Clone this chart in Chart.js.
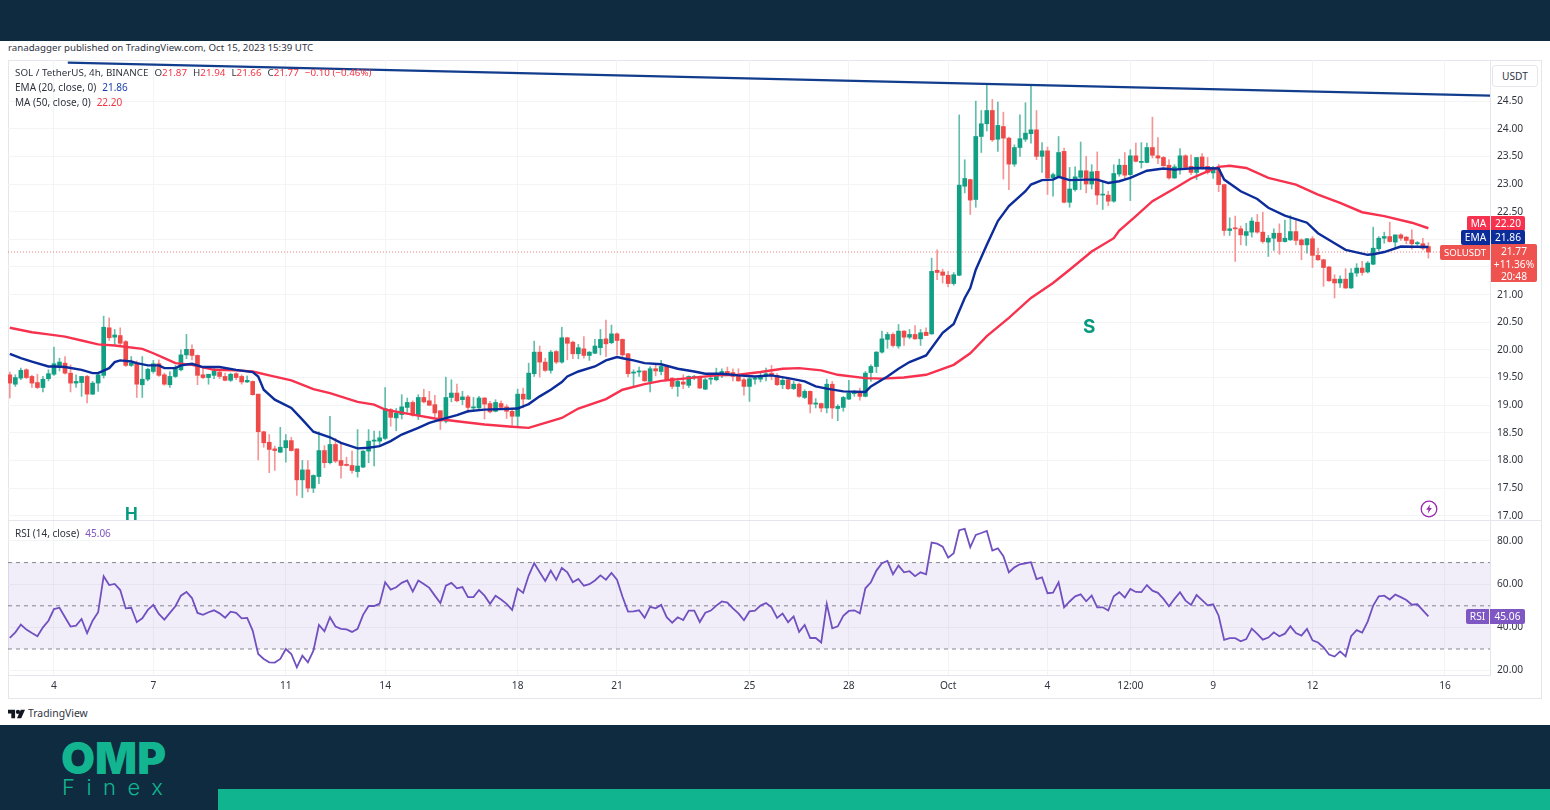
<!DOCTYPE html>
<html>
<head>
<meta charset="utf-8">
<title>SOL / TetherUS</title>
<script src="https://cdn.jsdelivr.net/npm/chart.js@4/dist/chart.umd.min.js"></script>
<style>
    html, body { margin: 0; padding: 0; background: #fff; }
    body { width: 1550px; height: 810px; position: relative; overflow: hidden; font-family: "Noto Sans", sans-serif; color: #30343f; }
    .abs { position: absolute; white-space: nowrap; }
    canvas { position: absolute; display: block; }
    #topBar { left: 0; top: 0; width: 1550px; height: 41px; background: #0e2b40; }
    #footer { left: 0; top: 725px; width: 1550px; height: 85px; background: #0e2b40; }
    #strip { left: 218px; top: 789px; width: 1332px; height: 21px; background: #10b48f; }
    #frame { left: 8px; top: 60px; width: 1532px; height: 637px; border: 1px solid #e4e6ec; }
    #divider { left: 8px; top: 520px; width: 1533px; height: 1px; background: #e4e6ec; }
    .legend { font-size: 10px; line-height: 14px; }
    .red { color: #f23645; }
    .gap { margin-left: 6px; }
    .tag { font-size: 10.2px; line-height: 15px; text-align: center; color: #fff; }
</style>
</head>
<body>
<div class="abs" id="topBar"></div>
<div class="abs" id="frame"></div>
<canvas id="priceChart" width="1533" height="460" style="left:8px;top:60px"></canvas>
<canvas id="rsiChart" width="1533" height="178" style="left:8px;top:520px"></canvas>
<div class="abs" id="divider"></div>

<div class="abs legend" style="left:8px;top:41px;font-size:9.7px">ranadagger published on TradingView.com, Oct 15, 2023 15:39 UTC</div>
<div class="abs legend" style="left:15px;top:66px;font-size:9.8px">SOL / TetherUS, 4h, BINANCE<span class="gap">O</span><span class="red">21.87</span><span class="gap">H</span><span class="red">21.94</span><span class="gap">L</span><span class="red">21.66</span><span class="gap">C</span><span class="red">21.77</span><span class="red gap">−0.10 (−0.46%)</span></div>
<div class="abs legend" style="left:15px;top:80px">EMA (20, close, 0)<span class="gap" style="color:#1b3fa8">21.86</span></div>
<div class="abs legend" style="left:15px;top:95px">MA (50, close, 0)<span class="gap" style="color:#f23645">22.20</span></div>
<div class="abs legend" style="left:15px;top:526px">RSI (14, close)<span class="gap" style="color:#7e57c2">45.06</span></div>

<div class="abs" style="left:125px;top:504px;font:700 17px Inter,sans-serif;color:#089981">H</div>
<div class="abs" style="left:1083px;top:315px;font:700 19px Inter,sans-serif;color:#089981">S</div>

<svg class="abs" style="left:1420px;top:500px" width="18" height="18" viewBox="0 0 18 18">
    <circle cx="9" cy="9" r="7.8" fill="none" stroke="#9c27b0" stroke-width="1.3"/>
    <path d="M10.2 4.2 6.2 9.8h2.4l-.9 4 4.1-5.7H9.4z" fill="#9c27b0"/>
</svg>

<div class="abs" style="left:1492px;top:65px;width:44px;height:20px;border:1px solid #e4e6ec;border-radius:3px;font-size:10.2px;line-height:20px;text-align:center;background:#fff">USDT</div>

<div class="abs tag" style="left:1467px;top:216px;width:23px;height:15px;background:#f7324e;border-radius:2px 0 0 2px">MA</div>
<div class="abs tag" style="left:1491px;top:216px;width:34px;height:15px;background:#f7324e;border-radius:0 2px 2px 0">22.20</div>
<div class="abs tag" style="left:1461px;top:230px;width:29px;height:15px;background:#0c2c9a;border-radius:2px 0 0 2px">EMA</div>
<div class="abs tag" style="left:1491px;top:230px;width:34px;height:15px;background:#0c2c9a;border-radius:0 2px 2px 0">21.86</div>
<div class="abs tag" style="left:1440px;top:245px;width:50px;height:15px;background:#ef5350;border-radius:2px 0 0 2px;font-size:9.6px">SOLUSDT</div>
<div class="abs tag" style="left:1491px;top:244px;width:46px;height:38px;background:#ef5350;line-height:12.7px;border-radius:0 2px 2px 0;padding-top:1px;box-sizing:border-box">21.77<br>+11.36%<br>20:48</div>
<div class="abs tag" style="left:1466px;top:609px;width:23px;height:15px;background:#7e57c2;border-radius:2px 0 0 2px">RSI</div>
<div class="abs tag" style="left:1490px;top:609px;width:35px;height:15px;background:#7e57c2;border-radius:0 2px 2px 0">45.06</div>

<svg class="abs" style="left:8px;top:709px" width="17" height="10" viewBox="0 0 36 18">
    <path d="M0 0h15v18H7V8H0zM21 0a4.5 4.5 0 1 1 0 9 4.5 4.5 0 0 1 0-9zM27 0h9l-8 18h-9z" fill="#131722"/>
</svg>
<div class="abs" style="left:28px;top:706px;font-size:10.4px;line-height:15px;color:#30343f">TradingView</div>

<div class="abs" id="footer"></div>
<div class="abs" id="strip"></div>
<div class="abs" style="left:61px;top:728px;font:900 44px/60px Inter,sans-serif;color:#12b58f">OMP</div>
<div class="abs" style="left:62px;top:774px;font:300 22px/26px Inter,sans-serif;color:#12b58f;letter-spacing:11.5px">Finex</div>

<script>
// 4h candles, Sep 2 16:00 to Oct 15 12:00
const opens = [
    19.55,19.38,19.49,19.64,19.52,19.41,19.32,19.48,19.56,19.70,
    19.76,19.58,19.40,19.41,19.52,19.20,19.40,19.54,20.40,20.23,
    20.26,20.15,19.72,19.76,19.37,19.47,19.61,19.75,19.55,19.37,
    19.52,19.64,19.91,20.01,19.90,19.55,19.50,19.54,19.60,19.52,
    19.45,19.57,19.52,19.42,19.43,19.20,18.52,18.33,18.21,18.15,
    18.23,18.36,18.21,17.65,17.83,17.50,17.71,18.18,17.96,18.29,
    18.00,17.93,17.91,17.80,17.88,18.17,18.35,18.35,18.40,18.92,
    18.77,18.83,18.96,19.05,18.82,19.14,19.08,19.01,18.90,18.71,
    19.14,19.22,19.10,19.15,18.95,18.95,19.13,19.03,18.89,19.03,
    18.97,18.89,18.80,19.20,19.11,19.57,19.96,19.78,19.63,19.97,
    19.78,20.22,20.14,19.93,20.02,19.90,19.94,20.04,20.20,20.13,
    20.29,20.19,19.93,19.58,19.60,19.62,19.43,19.66,19.61,19.70,
    19.49,19.34,19.42,19.36,19.50,19.52,19.29,19.47,19.46,19.55,
    19.61,19.59,19.55,19.46,19.34,19.47,19.47,19.53,19.58,19.54,
    19.37,19.46,19.30,19.38,19.14,19.25,19.02,19.03,18.95,19.38,
    18.94,18.96,19.11,19.21,19.22,19.16,19.59,19.70,19.96,20.19,
    20.28,20.07,20.34,20.23,20.28,20.20,20.32,20.29,21.44,21.41,
    21.35,21.20,21.35,22.96,23.08,22.72,23.86,24.09,24.33,23.81,
    24.04,23.83,23.36,23.66,23.81,23.91,23.98,23.50,23.60,23.11,
    23.14,23.59,22.67,22.90,23.12,23.24,23.00,23.23,22.80,22.80,
    22.69,23.18,23.34,23.17,23.51,23.39,23.39,23.66,23.51,23.48,
    23.34,23.11,23.26,23.51,23.32,23.21,23.49,23.32,23.20,23.26,
    22.99,22.16,22.20,22.19,22.07,22.13,22.31,22.13,21.95,22.02,
    22.11,21.96,21.99,22.14,21.99,21.90,22.01,21.71,21.63,21.50,
    21.28,21.21,21.28,21.12,21.39,21.48,21.41,21.55,21.83,22.02,
    22.05,21.95,22.08,22.04,21.99,21.92,21.92,21.87
];
const closes = [
    19.40,19.50,19.63,19.50,19.40,19.32,19.47,19.57,19.75,19.78,
    19.58,19.40,19.43,19.52,19.20,19.40,19.55,20.41,20.22,20.27,
    20.12,19.72,19.76,19.38,19.47,19.65,19.75,19.54,19.38,19.52,
    19.66,19.91,20.01,19.90,19.54,19.50,19.56,19.62,19.52,19.45,
    19.56,19.50,19.42,19.45,19.19,18.52,18.32,18.20,18.18,18.24,
    18.36,18.18,17.65,17.83,17.50,17.73,18.18,17.96,18.29,17.99,
    17.91,17.91,17.82,17.90,18.17,18.35,18.37,18.41,18.94,18.78,
    18.86,18.97,19.05,18.82,19.14,19.06,19.00,18.86,18.71,19.14,
    19.22,19.08,19.15,18.96,18.97,19.13,19.02,18.88,19.05,18.96,
    18.89,18.80,19.20,19.11,19.58,19.96,19.78,19.63,19.96,19.78,
    20.22,20.12,19.93,20.04,19.90,19.96,20.07,20.19,20.11,20.29,
    20.17,19.91,19.57,19.60,19.62,19.44,19.66,19.62,19.70,19.46,
    19.34,19.43,19.38,19.52,19.52,19.31,19.46,19.49,19.58,19.61,
    19.56,19.52,19.44,19.34,19.48,19.49,19.54,19.57,19.53,19.37,
    19.45,19.30,19.38,19.16,19.25,19.02,19.04,18.95,19.38,18.95,
    18.98,19.14,19.22,19.23,19.16,19.58,19.70,19.96,20.20,20.28,
    20.08,20.34,20.23,20.28,20.20,20.31,20.26,21.42,21.40,21.35,
    21.20,21.36,22.98,23.10,22.71,23.86,24.09,24.33,23.80,24.06,
    23.83,23.36,23.66,23.82,23.92,23.98,23.50,23.60,23.11,23.17,
    23.57,22.67,22.91,23.13,23.24,23.00,23.22,22.80,22.81,22.69,
    23.19,23.34,23.16,23.51,23.41,23.41,23.66,23.52,23.47,23.33,
    23.11,23.31,23.51,23.30,23.21,23.48,23.30,23.21,23.26,22.99,
    22.16,22.19,22.19,22.08,22.14,22.33,22.13,21.96,22.02,22.11,
    21.96,22.02,22.14,21.98,21.90,22.01,21.71,21.63,21.49,21.25,
    21.21,21.28,21.12,21.39,21.48,21.40,21.57,21.84,22.02,22.05,
    21.96,22.08,22.02,21.98,21.92,21.94,21.84,21.77
];
const highs = [
    19.60,19.55,19.67,19.66,19.54,19.56,19.52,19.64,20.05,19.85,
    19.88,19.73,19.55,19.52,19.54,19.43,19.60,20.61,20.58,20.37,
    20.40,20.17,19.88,19.80,19.88,19.67,19.81,19.82,19.58,19.61,
    19.72,20.00,20.28,20.09,19.91,19.70,19.56,19.69,19.64,19.58,
    19.58,19.59,19.55,19.53,19.44,19.20,18.53,18.47,18.26,18.60,
    18.47,18.42,18.21,18.00,18.00,17.74,18.52,18.27,18.80,18.40,
    18.32,18.06,18.17,18.56,18.18,18.56,18.53,18.53,19.32,18.94,
    18.94,19.19,19.13,19.08,19.19,19.29,19.25,19.18,18.90,19.51,
    19.46,19.38,19.25,19.18,19.14,19.16,19.14,19.07,19.10,19.08,
    19.01,18.95,19.29,19.31,19.76,20.16,20.07,19.85,19.99,19.99,
    20.41,20.23,20.16,20.10,20.24,19.97,20.19,20.37,20.54,20.45,
    20.31,20.20,19.94,19.64,19.69,19.62,19.70,19.75,19.81,19.72,
    19.50,19.49,19.55,19.53,19.54,19.53,19.49,19.50,19.67,19.66,
    19.69,19.66,19.66,19.49,19.52,19.50,19.58,19.67,19.72,19.57,
    19.50,19.49,19.43,19.40,19.28,19.26,19.12,19.04,19.47,19.43,
    19.01,19.16,19.45,19.27,19.31,19.61,19.73,19.97,20.34,20.32,
    20.31,20.46,20.35,20.37,20.44,20.37,20.40,21.66,21.81,21.46,
    21.42,21.40,24.25,23.44,23.09,24.50,24.33,24.79,24.53,24.48,
    24.30,23.85,23.71,24.25,24.47,24.78,24.33,23.75,23.67,23.20,
    23.86,23.65,23.30,23.31,23.76,23.50,23.35,23.58,23.03,22.87,
    23.35,23.45,23.57,23.62,23.74,23.75,23.74,24.21,23.84,23.50,
    23.44,23.35,23.64,23.53,23.53,23.48,23.55,23.48,23.32,23.36,
    23.00,22.39,22.42,22.24,22.29,22.39,22.45,22.49,22.07,22.19,
    22.28,22.35,22.43,22.34,22.01,22.02,22.05,21.84,21.64,21.51,
    21.36,21.34,21.47,21.47,21.56,21.60,21.60,22.22,22.05,22.13,
    22.31,22.08,22.10,22.05,22.17,21.96,22.02,21.94
];
const lows = [
    19.13,19.34,19.46,19.48,19.32,19.30,19.24,19.44,19.54,19.62,
    19.56,19.24,19.32,19.16,19.04,19.19,19.25,19.49,20.17,20.08,
    20.09,19.70,19.70,19.14,19.14,19.44,19.58,19.52,19.36,19.32,
    19.50,19.62,19.84,19.82,19.37,19.48,19.38,19.48,19.48,19.44,
    19.43,19.46,19.38,19.41,19.18,18.01,18.24,17.78,17.82,18.14,
    17.97,18.17,17.37,17.33,17.43,17.42,17.58,17.87,17.94,17.96,
    17.68,17.90,17.77,17.70,17.87,17.96,17.90,18.26,18.38,18.62,
    18.54,18.75,18.87,18.80,18.74,19.04,18.99,18.76,18.56,18.68,
    19.06,19.06,19.01,18.87,18.92,18.94,18.75,18.86,18.88,18.95,
    18.76,18.64,18.60,18.95,19.10,19.52,19.51,19.61,19.58,19.75,
    19.76,19.82,19.84,19.84,19.85,19.81,19.93,19.91,19.88,20.11,
    19.91,19.88,19.51,19.32,19.52,19.43,19.24,19.53,19.55,19.44,
    19.30,19.16,19.30,19.32,19.46,19.30,19.28,19.38,19.44,19.50,
    19.54,19.44,19.43,19.18,19.07,19.38,19.42,19.44,19.46,19.36,
    19.30,19.28,19.28,19.14,19.12,18.86,18.95,18.88,18.86,18.76,
    18.72,18.89,19.10,19.16,19.09,19.15,19.43,19.59,19.94,20.03,
    20.05,20.03,20.08,20.20,20.19,20.08,20.26,20.28,21.27,21.21,
    21.14,21.17,21.34,22.84,22.45,22.58,23.57,23.96,23.77,23.59,
    23.09,22.90,23.32,23.50,23.77,23.74,23.44,23.21,22.81,22.78,
    23.11,22.66,22.58,22.87,22.90,22.84,22.91,22.63,22.54,22.61,
    22.67,23.14,23.09,22.70,23.40,23.29,23.38,23.47,23.37,23.32,
    23.09,23.10,23.18,23.26,23.17,23.08,23.29,23.18,23.10,22.86,
    22.07,22.07,21.60,21.90,21.89,22.04,22.11,21.93,21.69,21.80,
    21.73,21.95,21.98,21.90,21.63,21.75,21.49,21.62,21.15,21.24,
    20.94,21.13,21.11,21.11,21.33,21.35,21.39,21.54,21.79,21.93,
    21.95,21.84,21.98,21.92,21.82,21.89,21.81,21.66
];

// Moving averages, read at the bends of each line
const emaBars = [0,2,4,7,8,10,13,15,16,18,19,20,22,23,25,27,28,30,31,33,35,38,41,44,45,46,48,51,53,55,58,60,63,65,67,69,71,74,76,78,81,83,86,89,92,94,96,98,100,101,103,106,108,110,111,113,115,118,121,124,126,129,132,135,138,141,144,146,148,151,155,156,159,161,163,166,169,171,173,174,175,177,179,181,184,185,187,189,190,192,195,197,199,201,203,206,209,211,215,219,220,223,226,228,231,235,237,240,242,246,247,249,252,257];
const emaValues = [19.93,19.85,19.79,19.70,19.70,19.69,19.64,19.58,19.58,19.67,19.78,19.81,19.79,19.76,19.72,19.72,19.67,19.67,19.72,19.75,19.69,19.69,19.64,19.60,19.52,19.28,19.10,18.95,18.74,18.52,18.42,18.32,18.22,18.23,18.26,18.35,18.47,18.59,18.68,18.74,18.82,18.89,18.92,18.93,18.94,19.02,19.16,19.28,19.42,19.52,19.61,19.70,19.81,19.87,19.85,19.81,19.76,19.74,19.66,19.61,19.57,19.57,19.54,19.52,19.54,19.49,19.43,19.34,19.30,19.25,19.24,19.34,19.52,19.66,19.78,19.90,20.31,20.47,20.94,21.12,21.45,21.90,22.33,22.60,22.87,22.99,23.07,23.08,23.13,23.07,23.08,23.08,23.02,23.05,23.11,23.24,23.28,23.26,23.29,23.28,23.08,22.87,22.73,22.57,22.43,22.30,22.11,21.93,21.81,21.72,21.73,21.77,21.87,21.86];
const maBars = [0,4,7,10,13,16,19,24,26,28,30,33,37,41,44,47,51,55,58,63,66,68,73,77,81,86,91,94,97,100,103,108,111,115,118,123,128,132,136,140,143,147,150,155,158,162,166,171,174,177,181,185,189,192,196,200,201,204,207,211,214,217,219,221,224,228,233,237,241,245,249,254,257];
const maValues = [20.40,20.32,20.28,20.24,20.17,20.10,20.08,20.02,19.94,19.85,19.76,19.73,19.64,19.63,19.61,19.54,19.45,19.29,19.22,19.06,19.01,18.92,18.83,18.76,18.71,18.65,18.61,18.59,18.68,18.77,18.94,19.11,19.28,19.38,19.44,19.49,19.54,19.55,19.60,19.66,19.67,19.63,19.55,19.49,19.48,19.50,19.55,19.73,19.94,20.25,20.58,20.94,21.21,21.45,21.78,22.02,22.16,22.42,22.69,22.92,23.10,23.23,23.31,23.33,23.29,23.11,22.99,22.81,22.66,22.49,22.42,22.30,22.20];

// Hand drawn resistance line
const trendBars = [10.5, 268.2];
const trendValues = [25.195, 24.6];

const rsiValues = [
    35.1,37.7,41.3,39.0,37.4,35.9,40.0,43.1,48.5,49.1,
    44.7,40.4,40.8,43.9,37.3,43.1,47.0,63.7,59.6,60.1,
    57.3,48.8,49.1,42.4,44.2,48.1,50.4,46.2,43.6,46.7,
    49.8,54.7,56.4,53.6,46.7,45.8,47.0,47.9,46.5,44.5,
    47.3,46.7,44.2,44.4,38.5,27.7,25.4,23.8,23.7,25.4,
    30.0,27.7,21.5,26.9,23.8,29.2,41.1,38.2,44.7,40.4,
    39.3,39.1,37.9,39.3,45.8,49.9,49.9,51.0,60.9,57.5,
    58.6,60.6,61.7,56.6,61.7,60.1,58.3,54.7,51.3,59.3,
    60.6,58.1,58.7,54.0,54.0,57.3,54.7,50.9,54.6,52.9,
    50.9,48.1,58.0,56.0,64.0,69.7,65.5,61.5,66.3,62.0,
    67.5,65.5,60.9,62.4,59.3,60.0,61.7,64.1,62.1,65.2,
    62.1,54.2,47.3,47.4,47.9,44.4,49.5,48.8,50.4,44.7,
    42.2,44.7,43.4,47.8,47.8,42.5,46.8,47.8,50.1,52.0,
    51.5,48.8,46.5,43.3,47.4,47.8,50.1,51.3,49.3,44.4,
    46.4,42.4,45.1,37.9,41.1,35.1,35.1,33.0,50.9,39.6,
    40.5,45.4,47.6,47.9,46.5,58.1,60.9,66.3,69.7,70.8,
    64.6,68.6,65.5,66.0,63.7,65.5,64.6,79.3,78.8,77.4,
    72.3,74.3,85.0,85.6,77.1,82.8,83.7,84.7,75.6,76.6,
    73.0,65.5,67.8,69.2,69.7,70.2,62.4,63.2,55.8,56.1,
    60.9,49.3,52.0,54.4,55.3,52.1,54.7,49.3,49.3,47.8,
    54.4,56.3,53.8,57.8,56.4,56.3,59.6,57.0,56.0,53.2,
    49.8,53.2,56.3,52.4,50.4,55.0,52.6,50.2,50.7,45.4,
    34.2,35.0,35.0,33.6,34.6,39.4,37.0,34.3,35.3,37.7,
    35.9,37.1,40.5,37.4,36.2,39.3,34.0,33.0,30.8,27.4,
    26.5,28.9,26.6,35.9,38.7,37.6,42.7,50.1,54.4,54.7,
    52.9,55.2,54.0,52.7,50.5,50.7,47.9,45.06
];

// Axis ticks
const timeTickBars = [8, 26, 50, 68, 92, 110, 134, 152, 170, 188, 203, 218, 236, 260];
const timeTickLabels = ['4', '7', '11', '14', '18', '21', '25', '28', 'Oct', '4', '12:00', '9', '12', '16'];
const priceTicks = [17, 17.5, 18, 18.5, 19, 19.5, 20, 20.5, 21, 21.5, 22, 22.5, 23, 23.5, 24, 24.5];
const rsiTicks = [20, 40, 60, 80];
const rsiUpper = 70;
const rsiMiddle = 50;
const rsiLower = 30;

const X_MIN = -0.33;
const X_MAX = 268.16;
const GRID = '#f3f4f6';
const BORDER = '#e4e6ec';
const GREEN = '#12a085';
const RED = '#ef4a4a';
const GREEN_WICK = '#62bdaa';
const RED_WICK = '#f59696';
const AXIS_FONT = { family: '"Noto Sans", sans-serif', size: 10.2 };

const pairs = (xs, ys) => xs.map((x, i) => ({ x: x, y: ys[i] }));
const isUp = i => closes[i] >= opens[i];

/**
 * Shared time axis: grid lines only at the labelled bars.
 */
function timeAxis(showLabels, height) {
    return {
        type: 'linear',
        min: X_MIN,
        max: X_MAX,
        offset: false,
        grid: { color: GRID, offset: false, drawTicks: false },
        border: { display: showLabels, color: BORDER },
        afterBuildTicks: axis => { axis.ticks = timeTickBars.map(v => ({ value: v })); },
        afterFit: axis => {
            axis.height = height;
            axis.paddingLeft = 0;
            axis.paddingRight = 0;
        },
        ticks: {
            display: showLabels,
            autoSkip: false,
            maxRotation: 0,
            padding: 5,
            color: '#30343f',
            font: AXIS_FONT,
            callback: value => timeTickLabels[timeTickBars.indexOf(value)]
        }
    };
}

function valueAxis(min, max, tickList) {
    return {
        position: 'right',
        min: min,
        max: max,
        grid: { color: GRID, drawTicks: false },
        border: { color: BORDER },
        afterBuildTicks: axis => { axis.ticks = tickList.map(v => ({ value: v })); },
        // labels sit well inside the range, so no room is needed above or below
        afterFit: axis => {
            axis.width = 51;
            axis.paddingTop = 0;
            axis.paddingBottom = 0;
        },
        ticks: {
            autoSkip: false,
            padding: 7,
            color: '#30343f',
            font: AXIS_FONT,
            callback: value => value.toFixed(2)
        }
    };
}

function lineSet(data, color, width, order) {
    return {
        type: 'line',
        data: data,
        borderColor: color,
        borderWidth: width,
        pointRadius: 0,
        tension: 0,
        fill: false,
        order: order
    };
}

const sharedOptions = {
    responsive: false,
    animation: false,
    layout: { padding: 0 },
    plugins: { legend: { display: false }, tooltip: { enabled: false } }
};

const barIndex = opens.map((_, i) => i);
const lastClose = closes[closes.length - 1];
const lastLine = lineSet(pairs([X_MIN, X_MAX], [lastClose, lastClose]), 'rgba(239,83,80,0.75)', 1, 6);
lastLine.borderDash = [1, 2];

new Chart(document.getElementById('priceChart'), {
    type: 'bar',
    data: {
        datasets: [
            lastLine,
            {
                data: barIndex.map(i => ({ x: i, y: [lows[i], highs[i]] })),
                backgroundColor: barIndex.map(i => isUp(i) ? GREEN_WICK : RED_WICK),
                barThickness: 1,
                grouped: false,
                order: 5
            },
            {
                data: barIndex.map(i => ({ x: i, y: [opens[i], closes[i]] })),
                backgroundColor: barIndex.map(i => isUp(i) ? GREEN : RED),
                barThickness: 4,
                minBarLength: 1,
                grouped: false,
                order: 4
            },
            lineSet(pairs(maBars, maValues), '#f7324e', 2.4, 3),
            lineSet(pairs(emaBars, emaValues), '#0c2c9a', 2.4, 2),
            lineSet(pairs(trendBars, trendValues), '#123c8c', 2.2, 1)
        ]
    },
    options: {
        ...sharedOptions,
        scales: {
            x: timeAxis(false, 0),
            y: valueAxis(16.924, 25.243, priceTicks)
        }
    }
});

// The RSI band is the fill between the two outer levels
const upperLine = lineSet(pairs([X_MIN, X_MAX], [rsiUpper, rsiUpper]), '#85878f', 1, 3);
upperLine.borderDash = [4, 4];
upperLine.fill = '+1';
upperLine.backgroundColor = 'rgba(126,87,194,0.1)';
const lowerLine = lineSet(pairs([X_MIN, X_MAX], [rsiLower, rsiLower]), '#85878f', 1, 3);
lowerLine.borderDash = [4, 4];
const middleLine = lineSet(pairs([X_MIN, X_MAX], [rsiMiddle, rsiMiddle]), '#85878f', 1, 3);
middleLine.borderDash = [4, 4];

new Chart(document.getElementById('rsiChart'), {
    type: 'line',
    data: {
        datasets: [
            upperLine,
            lowerLine,
            middleLine,
            lineSet(pairs(barIndex, rsiValues), '#7150c0', 1.8, 1)
        ]
    },
    options: {
        ...sharedOptions,
        scales: {
            x: timeAxis(true, 23),
            y: valueAxis(17.96, 89.72, rsiTicks)
        }
    }
});
</script>
</body>
</html>
